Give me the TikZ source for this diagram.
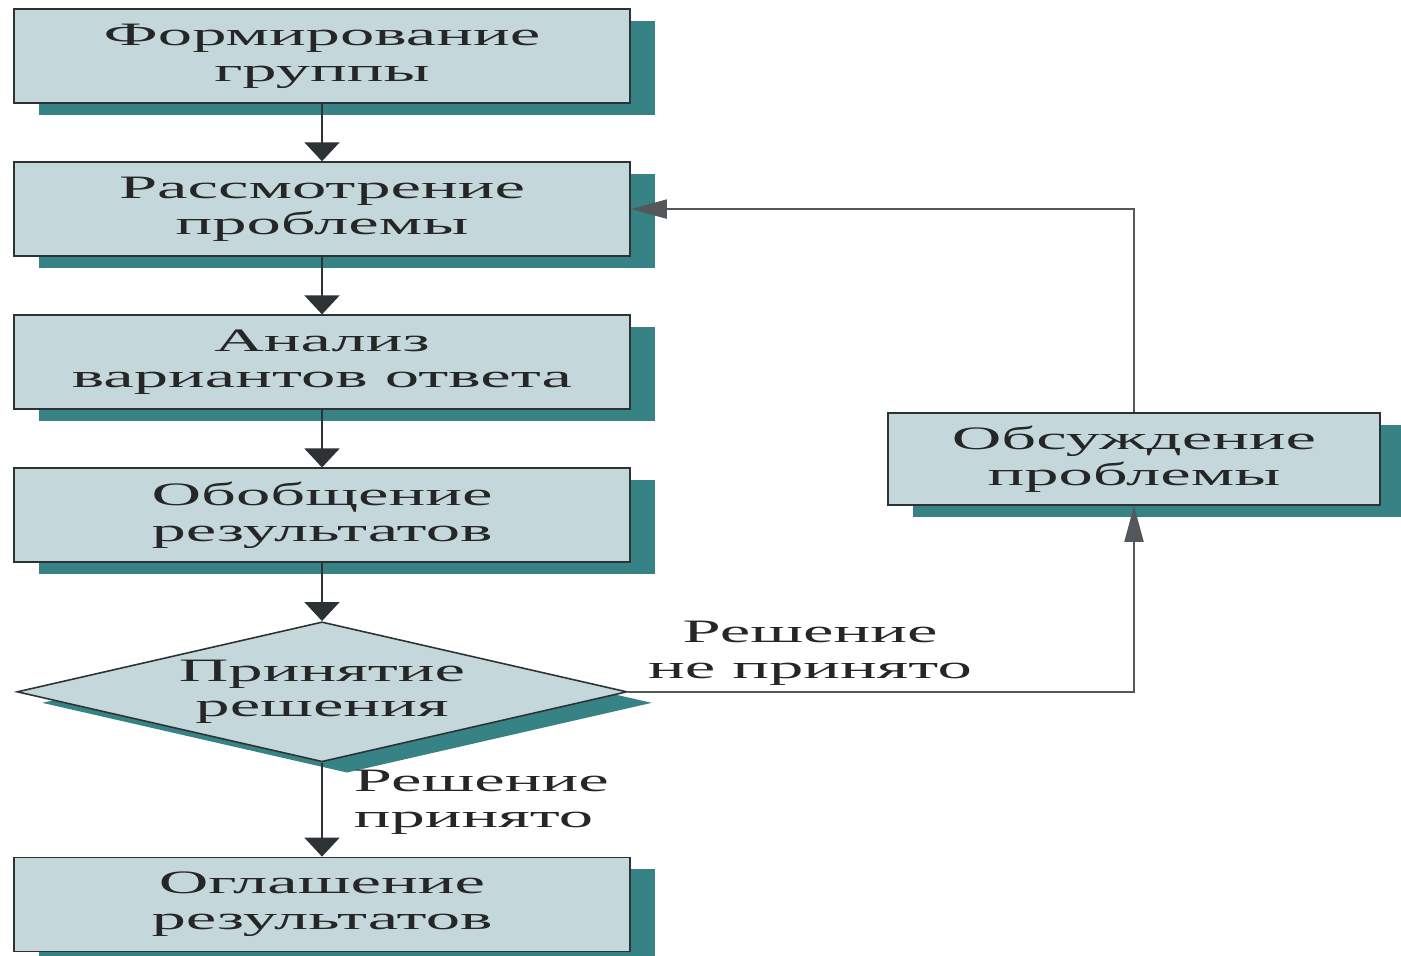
\documentclass[tikz,border=0pt]{standalone}
\usepackage{fontspec}
\setmainfont{Liberation Serif}[FakeStretch=2.1]
\usepackage{xcolor}
\usetikzlibrary{shapes.geometric,arrows.meta,positioning,shadows}

\definecolor{boxfill}{RGB}{196,215,219}
\definecolor{boxshadow}{RGB}{55,130,133}
\definecolor{boxline}{RGB}{45,50,52}
\definecolor{linegray}{RGB}{85,88,90}

\begin{document}
\begin{tikzpicture}[
        node distance=1.15cm,
        every node/.style={font=\fontsize{18.6}{20.4}\selectfont, text=black!85},
        block/.style={rectangle, draw=boxline, line width=0.9pt, fill=boxfill, align=center, minimum width=12.32cm, minimum height=1.88cm, drop shadow={shadow xshift=0.5cm, shadow yshift=-0.24cm, fill=boxshadow, opacity=1}},
        sideblock/.style={block, minimum width=9.84cm, minimum height=1.84cm},
        decision/.style={diamond, aspect=4.36, draw=boxline, line width=0.9pt, fill=boxfill, align=center, minimum width=12.2cm, minimum height=2.8cm, inner sep=0pt, drop shadow={shadow xshift=0.5cm, shadow yshift=-0.22cm, fill=boxshadow, opacity=1}},
        arrow/.style={line width=1.1pt, draw=boxline, -{Triangle[length=0.38cm, width=0.7cm]}},
        sidearrow/.style={line width=1.1pt, draw=linegray, -{Triangle[length=0.72cm, width=0.38cm]}}
    ]
        \useasboundingbox (0,0) rectangle (28.02,-19.1);

        % Main chain
        \node[block] (formir) at (6.44,-1.12) {Формирование\\группы};
        \node[block, below=of formir] (rassm) {Рассмотрение\\проблемы};
        \node[block, below=of rassm] (analiz) {Анализ\\вариантов ответа};
        \node[block, below=of analiz] (obobsh) {Обобщение\\результатов};
        \node[decision, below=1.16cm of obobsh] (prinyat) {Принятие\\решения};
        \node[block, below=1.88cm of prinyat] (oglash) {Оглашение\\результатов};

        % Side box
        \node[sideblock] (obsuzhd) at (22.68,-9.18) {Обсуждение\\проблемы};

        % Connections
        \draw[arrow] (formir) -- (rassm);
        \draw[arrow] (rassm) -- (analiz);
        \draw[arrow] (analiz) -- (obobsh);
        \draw[arrow] (obobsh) -- (prinyat);
        \draw[arrow] (prinyat) -- node[right, xshift=0.5cm, align=left, pos=0.42] {Решение\\принято} (oglash);
        \draw[sidearrow] (prinyat.east) -| node[above, pos=0.18, align=center] {Решение\\не принято} (obsuzhd.south);
        \draw[sidearrow] (obsuzhd.north) |- (rassm.east);
\end{tikzpicture}
\end{document}
